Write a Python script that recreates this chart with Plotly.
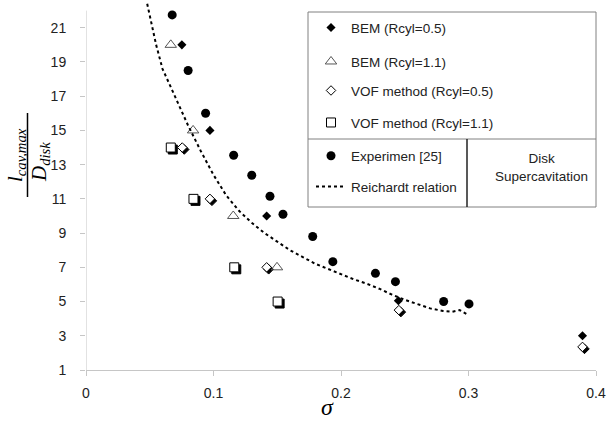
import plotly.graph_objects as go

# ---------------- data ----------------
exp_sigma = [0.0676, 0.0801, 0.0938, 0.1158, 0.130, 0.1443, 0.1545, 0.1778, 0.1936, 0.227, 0.2427, 0.2805, 0.3004]
exp_l = [21.75, 18.5, 16.0, 13.55, 12.38, 11.15, 10.1, 8.8, 7.33, 6.65, 6.16, 5.0, 4.86]

bem05_sigma = [0.0752, 0.0972, 0.1417, 0.245, 0.3894]
bem05_l = [20, 15, 10, 5.05, 3.0]

bem11_sigma = [0.0665, 0.084, 0.1155, 0.1498]
bem11_l = [20, 15, 10, 7]

vof05_sigma = [0.0755, 0.0972, 0.1417, 0.2454, 0.3894]
vof05_l = [14, 11, 7, 4.5, 2.35]

vof11_sigma = [0.0665, 0.0843, 0.1163, 0.1503]
vof11_l = [14, 11, 7, 5]

reich_sigma = [0.048, 0.055, 0.06, 0.07, 0.08, 0.09, 0.10, 0.11, 0.12, 0.13, 0.14, 0.15, 0.16,
               0.17, 0.18, 0.19, 0.20, 0.21, 0.22, 0.23, 0.24, 0.25, 0.26, 0.27, 0.28, 0.287, 0.293, 0.30]
reich_l = [22.4, 20.0, 18.6, 16.9, 15.3, 13.8, 12.4, 11.2, 10.3, 9.6, 9.0, 8.5, 8.0,
           7.6, 7.2, 6.9, 6.6, 6.3, 6.05, 5.75, 5.4, 5.1, 4.85, 4.6, 4.45, 4.4, 4.5, 4.2]

x_ticks = [0, 0.1, 0.2, 0.3, 0.4]
x_ticktext = ["0", "0.1", "0.2", "0.3", "0.4"]
y_ticks = [1, 3, 5, 7, 9, 11, 13, 15, 17, 19, 21]

# ---------------- layout geometry ----------------
W, H = 607, 423
ML, MR, MT, MB = 86, 11, 0, 53
PW, PH = W - ML - MR, H - MT - MB
XR = [0, 0.4]
YR = [1, 22.62]
SH = 2.0  # shadow offset in px
dx = SH * (XR[1] - XR[0]) / PW
dy = SH * (YR[1] - YR[0]) / PH


def px(x):
    return (x - ML) / PW


def py(y):
    return (H - MB - y) / PH


SANS = "Liberation Sans, Arial, sans-serif"
SERIF = "Liberation Serif, Times New Roman, serif"
TXT = "#222222"
AX = "#c6c6c6"

fig = go.Figure()

# shadows (drawn on hidden, shifted base axes)
fig.add_trace(go.Scatter(x=vof05_sigma, y=vof05_l, mode="markers", xaxis="x", yaxis="y",
                         marker=dict(symbol="diamond", size=7.3, color="black", line=dict(width=1, color="black")),
                         showlegend=False, hoverinfo="skip"))
fig.add_trace(go.Scatter(x=vof11_sigma, y=vof11_l, mode="markers", xaxis="x", yaxis="y",
                         marker=dict(symbol="square", size=9, color="black", line=dict(width=1, color="black")),
                         showlegend=False, hoverinfo="skip"))

common = dict(mode="markers", xaxis="x2", yaxis="y2", cliponaxis=False)

fig.add_trace(go.Scatter(x=bem05_sigma, y=bem05_l, name="BEM (Rcyl=0.5)", legend="legend",
                         marker=dict(symbol="diamond", size=7, color="black"), **common))
fig.add_trace(go.Scatter(x=bem11_sigma, y=bem11_l, name="BEM (Rcyl=1.1)", legend="legend2",
                         marker=dict(symbol="triangle-up-open", size=10, color="#555555", line=dict(width=1)), **common))
fig.add_trace(go.Scatter(x=vof05_sigma, y=vof05_l, name="VOF method (Rcyl=0.5)", legend="legend3",
                         marker=dict(symbol="diamond", size=7.3, color="white", line=dict(width=1, color="black")), **common))
fig.add_trace(go.Scatter(x=vof11_sigma, y=vof11_l, name="VOF method (Rcyl=1.1)", legend="legend4",
                         marker=dict(symbol="square", size=9, color="white", line=dict(width=1, color="black")), **common))
fig.add_trace(go.Scatter(x=exp_sigma, y=exp_l, name="Experimen [25]", legend="legend5",
                         marker=dict(symbol="circle", size=9, color="black"), **common))
fig.add_trace(go.Scatter(x=reich_sigma, y=reich_l, name="Reichardt relation", legend="legend6",
                         mode="lines", xaxis="x2", yaxis="y2",
                         line=dict(color="black", width=2, dash="3px,3px")))

leg_y = [27.7, 61.7, 90.7, 122.7, 156, 186.7]
leg_common = dict(x=px(311), xanchor="left", yanchor="middle", bgcolor="rgba(0,0,0,0)",
                  borderwidth=0, font=dict(family=SANS, size=13.5, color=TXT))
legends = {}
for i, yy in enumerate(leg_y):
    key = "legend" if i == 0 else f"legend{i + 1}"
    legends[key] = dict(y=py(yy), **leg_common)

shapes = [
    # legend frame
    dict(type="rect", xref="paper", yref="paper", x0=px(308), x1=px(596), y0=py(207), y1=py(12),
         line=dict(color="#808080", width=1)),
    dict(type="line", xref="paper", yref="paper", x0=px(308), x1=px(596), y0=py(139), y1=py(139),
         line=dict(color="#808080", width=1)),
    dict(type="line", xref="paper", yref="paper", x0=px(467), x1=px(467), y0=py(207), y1=py(139),
         line=dict(color="#222222", width=1.5)),
    # y axis line (ends at y=22)
    dict(type="line", xref="x2", yref="y2", x0=0, x1=0, y0=1, y1=22, line=dict(color=AX, width=1)),
    # fraction bar of y title
    dict(type="line", xref="paper", yref="paper", x0=px(27.5), x1=px(27.5), y0=py(197), y1=py(113),
         line=dict(color="black", width=1.5)),
]

annotations = [
    dict(text="<i>l</i><sub><i>cav,max</i></sub>", xref="paper", yref="paper", x=px(16), y=py(155),
         xanchor="center", yanchor="middle", textangle=-90, showarrow=False,
         font=dict(family=SERIF, size=21, color="black")),
    dict(text="<i>D</i><sub><i>disk</i></sub>", xref="paper", yref="paper", x=px(40), y=py(162),
         xanchor="center", yanchor="middle", textangle=-90, showarrow=False,
         font=dict(family=SERIF, size=21, color="black")),
    dict(text="<i>σ</i>", xref="paper", yref="paper", x=px(327), y=py(407),
         xanchor="center", yanchor="middle", showarrow=False,
         font=dict(family=SERIF, size=24, color="black")),
    dict(text="Disk<br>Supercavitation", xref="paper", yref="paper", x=px(541.7), y=py(167),
         xanchor="center", yanchor="middle", showarrow=False, align="center",
         font=dict(family=SANS, size=13.5, color=TXT)),
]

fig.update_layout(
    width=W, height=H,
    margin=dict(l=ML, r=MR, t=MT, b=MB),
    paper_bgcolor="white", plot_bgcolor="white",
    xaxis=dict(range=[XR[0] - dx, XR[1] - dx], visible=False, fixedrange=True),
    yaxis=dict(range=[YR[0] + dy, YR[1] + dy], visible=False, fixedrange=True),
    xaxis2=dict(range=XR, overlaying="x", anchor="y2", side="bottom",
                tickvals=x_ticks, ticktext=x_ticktext, showline=True, linecolor=AX, linewidth=1,
                ticks="outside", ticklen=5, tickcolor=AX, showgrid=False, zeroline=False,
                ticklabelstandoff=5,
                tickfont=dict(family=SANS, size=14, color=TXT)),
    yaxis2=dict(range=YR, overlaying="y", anchor="x2", side="left",
                tickvals=y_ticks, showline=False,
                ticks="outside", ticklen=5, tickcolor=AX, showgrid=False, zeroline=False,
                ticklabelstandoff=11,
                tickfont=dict(family=SANS, size=14, color=TXT)),
    shapes=shapes,
    annotations=annotations,
    **legends,
)

fig.write_html("out.html")
